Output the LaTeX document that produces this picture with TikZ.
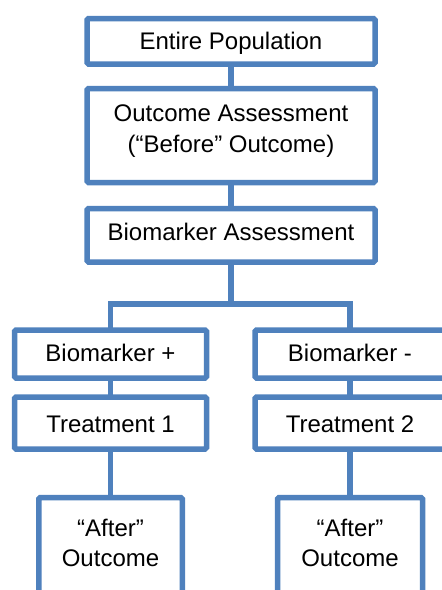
\documentclass[tikz,border=0pt]{standalone}
\usepackage{fontspec}
\setmainfont{Liberation Sans}
\definecolor{boxblue}{RGB}{79,129,189}
\begin{document}
\begin{tikzpicture}[x=1pt,y=-1pt,
  box/.style={rectangle, draw=boxblue, line width=5.5pt, fill=white, rounded corners=1.5pt, inner sep=0pt, outer sep=0pt},
  conn/.style={draw=boxblue, line width=5.5pt},
  txt/.style={font=\fontsize{24}{31}\selectfont, anchor=base, inner sep=0pt}]
\path[use as bounding box] (0,0) rectangle (442,590);
\clip (0,0) rectangle (442,590);
% boxes
\node[box, minimum width=288pt, minimum height=45.5pt] (ep) at (231,41.25) {};
\node[box, minimum width=288pt, minimum height=94pt] (outc) at (231,135.5) {};
\node[box, minimum width=288pt, minimum height=53.5pt] (bioa) at (231,235.25) {};
\node[box, minimum width=192pt, minimum height=48pt] (bplus) at (110.5,354) {};
\node[box, minimum width=190pt, minimum height=48pt] (bminus) at (350,354) {};
\node[box, minimum width=192pt, minimum height=52pt] (t1) at (110.5,423) {};
\node[box, minimum width=190pt, minimum height=52pt] (t2) at (350,423) {};
\node[box, minimum width=143.5pt, minimum height=125pt] (a1) at (110.5,560) {};
\node[box, minimum width=145pt, minimum height=125pt] (a2) at (350,560) {};
% texts
\node[txt] (tep) at (231,49.5) {Entire Population};
\node[txt] (toa1) at (231,121.5) {Outcome Assessment};
\node[txt] (toa2) at (231,152.5) {(“Before” Outcome)};
\node[txt] (tba) at (231,240) {Biomarker Assessment};
\node[txt] (tbp) at (110.5,361.5) {Biomarker +};
\node[txt] (tbm) at (350,361.5) {Biomarker -};
\node[txt] (tt1) at (110.5,432) {Treatment 1};
\node[txt] (tt2) at (350,432) {Treatment 2};
\node[txt] (ta1a) at (110.5,536) {“After”};
\node[txt] (ta1b) at (110.5,566.5) {Outcome};
\node[txt] (ta2a) at (350,536) {“After”};
\node[txt] (ta2b) at (350,566.5) {Outcome};
% connectors
\coordinate (br) at (231,304);
\draw[conn] (ep.south) -- (outc.north);
\draw[conn] (outc.south) -- (bioa.north);
\draw[conn] (bioa.south) -- (br);
\draw[conn] (bplus.north) |- (br) -| (bminus.north);
\draw[conn] (bplus.south) -- (t1.north);
\draw[conn] (bminus.south) -- (t2.north);
\draw[conn] (t1.south) -- (a1.north);
\draw[conn] (t2.south) -- (a2.north);
\end{tikzpicture}
\end{document}
